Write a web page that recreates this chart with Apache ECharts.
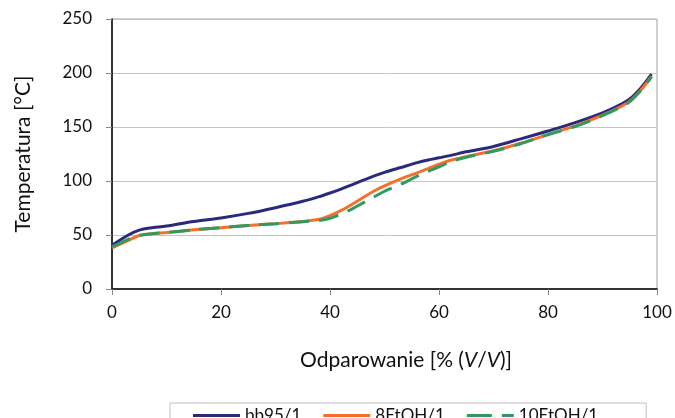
<!DOCTYPE html>
<html><head><meta charset="utf-8">
<script src="https://cdn.jsdelivr.net/npm/echarts@6/dist/echarts.min.js"></script>
<style>html,body{margin:0;padding:0;background:#fff}#c{width:675px;height:418px}</style>
</head><body><div id="c"></div>
<script>
const evaporated = [0,3,5,7,10,15,20,25,30,35,38,40,42,44,46,48,50,53,56,58,60,62,65,70,75,80,85,90,93,95,97,99];
const bb95 = [40.5,50,54.5,56.5,58.3,62.5,65.8,70,75.3,81.2,85.5,88.9,92.5,96.5,100.5,104.5,108,112.5,117,119.5,121.5,123.5,127,132,139,146.3,154,163,170,176,186,199];
const etoh8 = [38,45,49.5,51,52.3,54.8,56.8,58.8,60.5,62.5,64.5,68,72.5,78.2,84.5,90.5,95.5,102,107.5,111.5,115.5,119,122.5,128,135,143,151,161,168,174,184,197];
const etoh10 = [39,46,49.5,51,52.3,54.8,56.8,58.8,60.5,62.3,63.5,65.5,69.5,74,79.5,85,90.5,97,104.5,109,113,117.5,122,127.5,134.5,143,150.5,160.5,167.5,173.5,183.5,196.5];
const seriesNames = ['bb95/1','8EtOH/1','10EtOH/1'];
const xTicks = [0,20,40,60,80,100];
const yTicks = [0,50,100,150,200,250];

const pairs = ys => evaporated.map((x,i)=>[x,ys[i]]);
const font = 'Lato, "Open Sans", sans-serif';
const chart = echarts.init(document.getElementById('c'));
const mk = (name, ys, color, type) => ({
  name, type:'line', data: pairs(ys), smooth:0.3,
  symbol:'none', showSymbol:false,
  lineStyle:{color, width:3, type}, itemStyle:{color}
});
const solidIcon = 'path://M0,0H47V3H0Z';
const dashIcon = 'path://M0,0H25V3H0Z M35,0H47V3H35Z';
chart.setOption({
  animation:false,
  textStyle:{fontFamily:font},
  grid:{left:112, right:18, top:19, bottom:129, show:true, borderColor:'#a0a0a0', borderWidth:1},
  title:{
    text:'{a|Odparowanie [% (}{i|V}{a|/}{i|V}{a|)]}',
    left:401, top:345, textAlign:'center',
    textStyle:{rich:{
      a:{fontFamily:font, fontSize:21, color:'#111', fontWeight:'normal'},
      i:{fontFamily:font, fontSize:21, color:'#111', fontWeight:'normal', fontStyle:'italic'}
    }}
  },
  xAxis:{
    type:'value', min:xTicks[0], max:xTicks[xTicks.length-1], interval:20,
    axisLine:{show:true, lineStyle:{color:'#000', width:1.5}},
    axisTick:{show:true, length:6, lineStyle:{color:'#888'}},
    axisLabel:{fontFamily:font, fontSize:17, color:'#111', margin:15},
    splitLine:{show:false}
  },
  yAxis:{
    type:'value', min:yTicks[0], max:yTicks[yTicks.length-1], interval:50,
    name:'Temperatura [°C]', nameLocation:'middle', nameGap:78,
    nameTextStyle:{fontFamily:font, fontSize:21, color:'#111'},
    axisLine:{show:true, lineStyle:{color:'#000', width:1.5}},
    axisTick:{show:true, length:6, lineStyle:{color:'#888'}},
    axisLabel:{fontFamily:font, fontSize:17, color:'#111', margin:20},
    splitLine:{show:true, lineStyle:{color:'#c4c4c4', width:1}}
  },
  legend:{
    data:[
      {name:seriesNames[0], icon:solidIcon},
      {name:seriesNames[1], icon:solidIcon},
      {name:seriesNames[2], icon:dashIcon}
    ],
    left:170, top:403,
    itemWidth:47, itemHeight:3, itemGap:22,
    padding:[4,48,8,23],
    borderColor:'#c0c0c0', borderWidth:1,
    textStyle:{fontFamily:font, fontSize:17, color:'#111'}
  },
  series:[
    mk(seriesNames[0], bb95, '#2a2a7c', 'solid'),
    mk(seriesNames[1], etoh8, '#f5702a', 'solid'),
    mk(seriesNames[2], etoh10, '#2f9a62', [20,10])
  ]
});
</script></body></html>
